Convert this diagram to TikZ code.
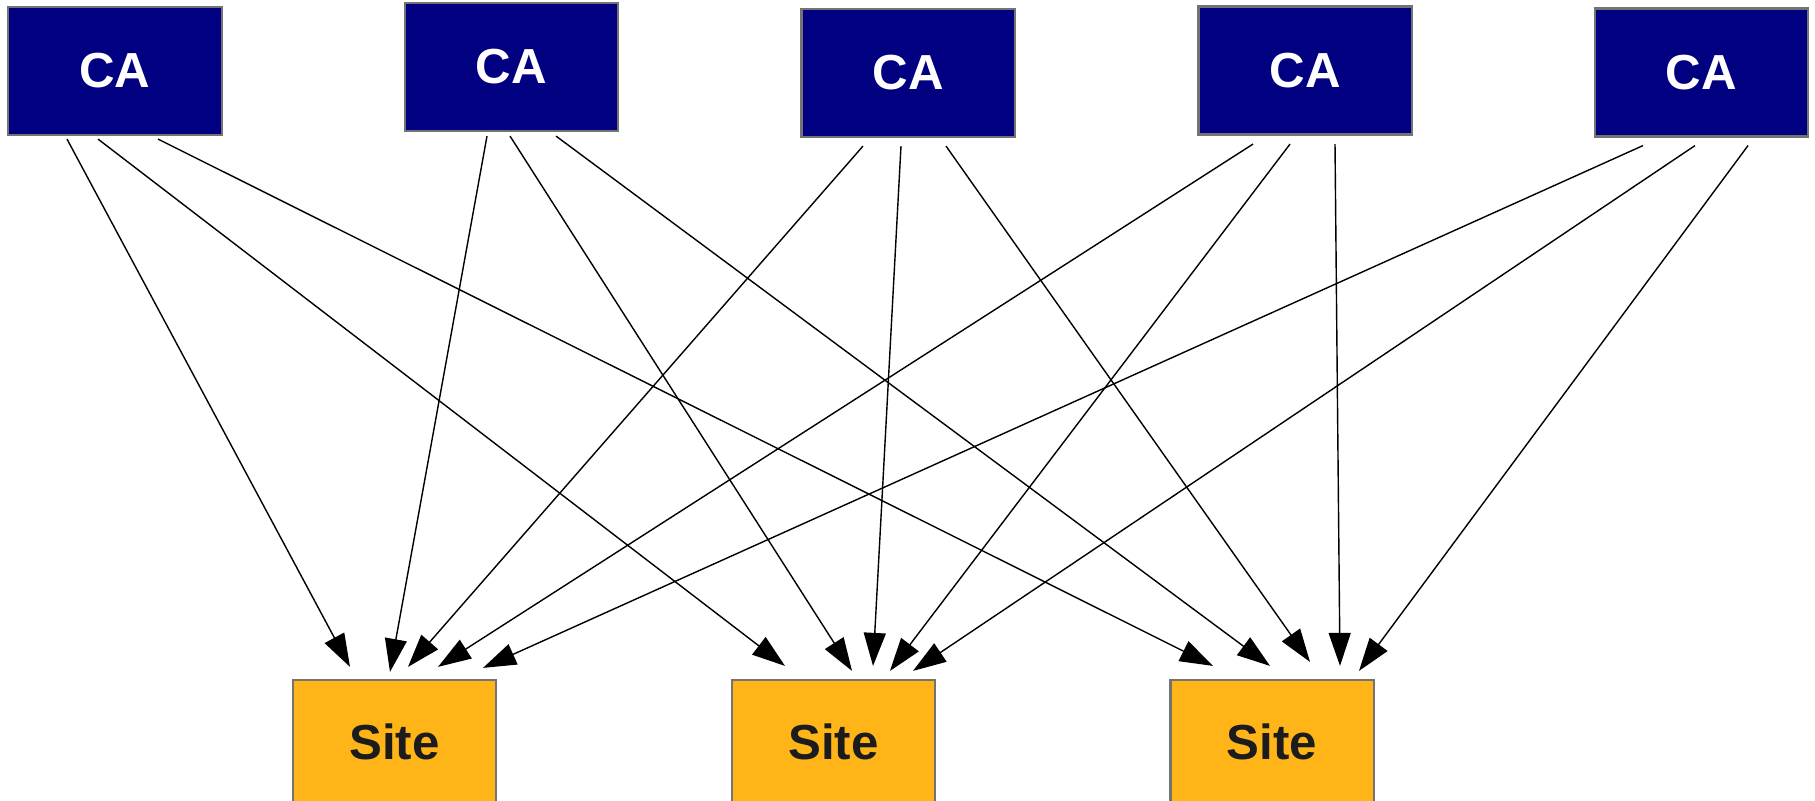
\documentclass[tikz,border=0pt]{standalone}
\usepackage{fontspec}
\setmainfont{Liberation Sans}
\usetikzlibrary{arrows.meta}
\definecolor{cablue}{HTML}{000080}
\definecolor{siteorange}{HTML}{FFB417}
\definecolor{site_text}{HTML}{1C1C1C}
\definecolor{boxline}{gray}{0.45}

\begin{document}
\begin{tikzpicture}[x=0.01cm, y=-0.01cm,
    canode/.style={shape=rectangle, fill=cablue, draw=boxline, line width=0.6, minimum width=2.13cm, minimum height=1.28cm, text=white, font=\fontsize{14}{16}\selectfont\bfseries},
    sitenode/.style={shape=rectangle, fill=siteorange, draw=boxline, line width=0.6, minimum width=2.03cm, minimum height=1.24cm, text=site_text, font=\fontsize{14}{16}\selectfont\bfseries},
    link/.style={-{Triangle[length=3.3mm, width=2.2mm]}, line width=0.4}
]
\useasboundingbox (0,0) rectangle (1815,801);
\clip (0,0) rectangle (1815,801);

% Boxes

% certificate authorities
\node[canode] (ca1) at (115,71) {CA};
\node[canode] (ca2) at (511.5,67) {CA};
\node[canode] (ca3) at (908,73) {CA};
\node[canode] (ca4) at (1305,70.5) {CA};
\node[canode] (ca5) at (1701.5,72.5) {CA};

% sites
\node[sitenode] (site1) at (394.5,742) {Site};
\node[sitenode] (site2) at (833.5,742) {Site};
\node[sitenode] (site3) at (1272,742) {Site};

% Arrows
\draw[link] ([shift={(-48,3)}]ca1.south) -- ([shift={(-44.5,-12)}]site1.north);
\draw[link] ([shift={(-17,3)}]ca1.south) -- ([shift={(-48.5,-13)}]site2.north);
\draw[link] ([shift={(43,3)}]ca1.south) -- ([shift={(-59,-13)}]site3.north);

\draw[link] ([shift={(-24.5,4)}]ca2.south) -- ([shift={(-4.5,-7)}]site1.north);
\draw[link] ([shift={(-1.5,4)}]ca2.south) -- ([shift={(18.5,-8)}]site2.north);
\draw[link] ([shift={(44.5,4)}]ca2.south) -- ([shift={(-2,-13)}]site3.north);

\draw[link] ([shift={(-45,8)}]ca3.south) -- ([shift={(13.5,-12)}]site1.north);
\draw[link] ([shift={(-7,8)}]ca3.south) -- ([shift={(39.5,-13)}]site2.north);
\draw[link] ([shift={(38,8)}]ca3.south) -- ([shift={(38,-17)}]site3.north);

\draw[link] ([shift={(-52,8.5)}]ca4.south) -- ([shift={(43.5,-12)}]site1.north);
\draw[link] ([shift={(-15,8.5)}]ca4.south) -- ([shift={(56.5,-8)}]site2.north);
\draw[link] ([shift={(30,8.5)}]ca4.south) -- ([shift={(68,-13)}]site3.north);

\draw[link] ([shift={(-58.5,8)}]ca5.south) -- ([shift={(88.5,-11)}]site1.north);
\draw[link] ([shift={(-6.5,8)}]ca5.south) -- ([shift={(79.5,-8)}]site2.north);
\draw[link] ([shift={(46.5,8)}]ca5.south) -- ([shift={(87,-8)}]site3.north);

\end{tikzpicture}
\end{document}
